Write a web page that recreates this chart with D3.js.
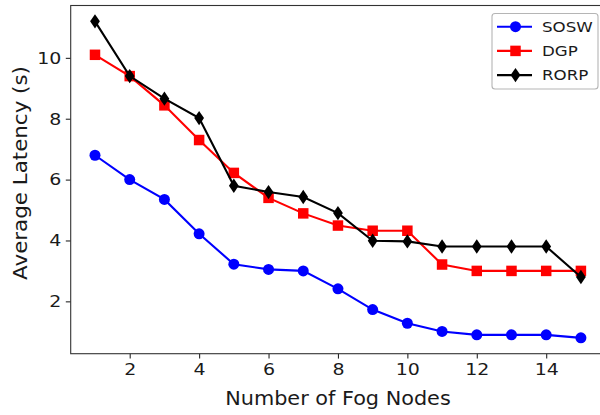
<!DOCTYPE html>
<html>
<head>
<meta charset="utf-8">
<script src="https://cdn.jsdelivr.net/npm/d3@7"></script>
<style>
    body { margin: 0; background: #fff; }
    svg { font-family: "DejaVu Sans", sans-serif; }
</style>
</head>
<body>
<svg id="chart" width="600" height="415"></svg>
<script>
// Latency vs number of fog nodes

const fogNodes = [1, 2, 3, 4, 5, 6, 7, 8, 9, 10, 11, 12, 13, 14, 15];

const soswValues = [6.8, 6.0, 5.35, 4.22, 3.22, 3.05, 3.0, 2.41, 1.73, 1.28, 1.01, 0.9, 0.9, 0.9, 0.8];
const dgpValues  = [10.1, 9.4, 8.44, 7.3, 6.22, 5.4, 4.89, 4.49, 4.32, 4.32, 3.21, 3.0, 3.0, 3.0, 3.0];
const rorpValues = [11.2, 9.4, 8.66, 8.02, 5.8, 5.59, 5.43, 4.9, 3.99, 3.97, 3.8, 3.8, 3.8, 3.8, 2.8];

const seriesNames = ['SOSW', 'DGP', 'RORP'];

const xTicks = [2, 4, 6, 8, 10, 12, 14];
const yTicks = [2, 4, 6, 8, 10];

const series = [
    { name: seriesNames[0], values: soswValues, color: '#0000ff', marker: 'circle' },
    { name: seriesNames[1], values: dgpValues, color: '#ff0000', marker: 'square' },
    { name: seriesNames[2], values: rorpValues, color: '#000000', marker: 'diamond' },
];

// Plot area (right side runs past the picture edge, like the original)
const plotLeft = 70.7, plotRight = 605.2, plotTop = 5.5, plotBottom = 353.7;

// text looks a bit wider than plain DejaVu at the same height
const textStretch = 1.15;

const svg = d3.select('#chart');

// matplotlib-like 5% margins
let allY = soswValues.concat(dgpValues, rorpValues);
let yMin = d3.min(allY), yMax = d3.max(allY);
let yPad = (yMax - yMin) * 0.05;
let xPad = (d3.max(fogNodes) - d3.min(fogNodes)) * 0.05;

const x = d3.scaleLinear()
    .domain([d3.min(fogNodes) - xPad, d3.max(fogNodes) + xPad])
    .range([plotLeft, plotRight]);

const y = d3.scaleLinear()
    .domain([yMin - yPad, yMax + yPad])
    .range([plotBottom, plotTop]);

/* Axes */
const xAxis = svg.append('g')
    .attr('transform', `translate(0,${plotBottom})`)
    .call(d3.axisBottom(x).tickValues(xTicks).tickSize(4.9).tickPadding(4.5).tickFormat(d3.format('d')));

const yAxis = svg.append('g')
    .attr('transform', `translate(${plotLeft},0)`)
    .call(d3.axisLeft(y).tickValues(yTicks).tickSize(4.9).tickPadding(4.5).tickFormat(d3.format('d')));

[xAxis, yAxis].forEach(ax => {
    ax.select('.domain').remove();
    ax.selectAll('line').attr('stroke', '#262626').attr('stroke-width', 1.1);
    ax.selectAll('text')
        .attr('fill', '#1a1a1a')
        .style('font-size', '16.5px')
        .style('font-family', '"DejaVu Sans", sans-serif');
});

// stretch tick labels sideways around their anchor
xAxis.selectAll('.tick text')
    .attr('transform', function () {
        let ty = +d3.select(this).attr('y');
        return `translate(0,${ty}) scale(${textStretch},1) translate(0,${-ty})`;
    });
yAxis.selectAll('.tick text')
    .attr('transform', function () {
        let tx = +d3.select(this).attr('x');
        return `translate(${tx},0) scale(${textStretch},1) translate(${-tx},0)`;
    });

// Spines
svg.append('rect')
    .attr('x', plotLeft)
    .attr('y', plotTop)
    .attr('width', plotRight - plotLeft)
    .attr('height', plotBottom - plotTop)
    .attr('fill', 'none')
    .attr('stroke', '#333')
    .attr('stroke-width', 1.1);

/* Axis labels */
svg.append('text')
    .attr('transform', `translate(${(plotLeft + plotRight) / 2},404.5) scale(1.05,1)`)
    .attr('text-anchor', 'middle')
    .style('font-size', '19.8px')
    .attr('fill', '#1a1a1a')
    .text('Number of Fog Nodes');

svg.append('text')
    .attr('transform', `translate(26.5,173) rotate(-90) scale(1.07,1)`)
    .attr('text-anchor', 'middle')
    .style('font-size', '20px')
    .attr('fill', '#1a1a1a')
    .text('Average Latency (s)');

/* Marker shapes */
const markerPath = {
    circle: d3.symbol().type(d3.symbolCircle).size(Math.PI * 5.5 * 5.5)(),
    square: d3.symbol().type(d3.symbolSquare).size(10.5 * 10.5)(),
    diamond: 'M0,-7.2L4.9,0L0,7.2L-4.9,0Z',
};

const line = d3.line()
    .x((d, i) => x(fogNodes[i]))
    .y(d => y(d));

const plot = svg.append('g');

series.forEach(s => {
    let g = plot.append('g');

    g.append('path')
        .datum(s.values)
        .attr('d', line)
        .attr('fill', 'none')
        .attr('stroke', s.color)
        .attr('stroke-width', 2.1);

    g.selectAll('path.marker')
        .data(s.values)
        .join('path')
        .attr('class', 'marker')
        .attr('transform', (d, i) => `translate(${x(fogNodes[i])},${y(d)})`)
        .attr('d', markerPath[s.marker])
        .attr('fill', s.color);
});

/* Legend */
const legend = svg.append('g');

legend.append('rect')
    .attr('x', 492)
    .attr('y', 13.5)
    .attr('width', 106)
    .attr('height', 75.5)
    .attr('rx', 3)
    .attr('fill', '#fff')
    .attr('fill-opacity', 0.8)
    .attr('stroke', '#b5b5b5')
    .attr('stroke-width', 1.1);

const legendRows = legend.selectAll('g.row')
    .data(series)
    .join('g')
    .attr('class', 'row')
    .attr('transform', (d, i) => `translate(0,${26.7 + i * 24.2})`);

legendRows.append('line')
    .attr('x1', 497)
    .attr('x2', 532)
    .attr('stroke', d => d.color)
    .attr('stroke-width', 2.1);

legendRows.append('path')
    .attr('transform', 'translate(515.5,0)')
    .attr('d', d => markerPath[d.marker])
    .attr('fill', d => d.color);

legendRows.append('text')
    .attr('transform', `translate(542,5.3) scale(${textStretch},1)`)
    .style('font-size', '14.5px')
    .attr('fill', '#1a1a1a')
    .text(d => d.name);
</script>
</body>
</html>
